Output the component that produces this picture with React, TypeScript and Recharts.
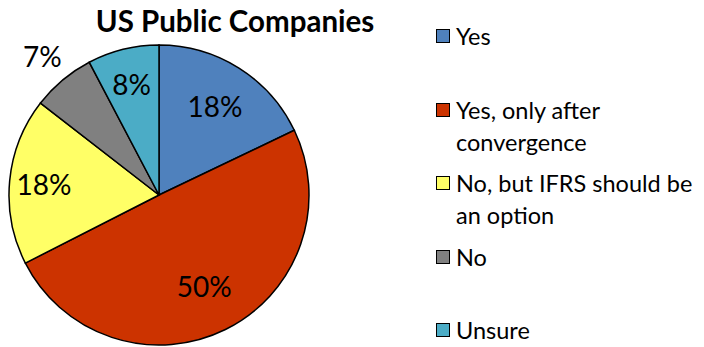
import React from "react";
import { PieChart, Pie, Cell, Legend } from "recharts";

const categories = ["Yes", "Yes, only after convergence", "No, but IFRS should be an option", "No", "Unsure"];
const values = [17.9, 49.6, 18.0, 6.8, 7.7];
const legendLines = [["Yes"], ["Yes, only after", "convergence"], ["No, but IFRS should be", "an option"], ["No"], ["Unsure"]];
const colors = ["#4F81BD", "#CC3300", "#FFFF66", "#808080", "#4BACC6"];
const labelFactors = [0.7, 0.68, 0.77, 1.21, 0.76];
const title = "US Public Companies";

const data = categories.map((name, i) => ({ name, value: values[i] }));
const FONT = "Lato, 'Open Sans', sans-serif";
const RADIAN = Math.PI / 180;

const renderLabel = (props: any) => {
  const { cx, cy, midAngle, outerRadius, index, value } = props;
  const r = outerRadius * labelFactors[index];
  const x = cx + r * Math.cos(-midAngle * RADIAN);
  const y = cy + r * Math.sin(-midAngle * RADIAN);
  return (
    <text x={x} y={y} textAnchor="middle" dominantBaseline="central" fontFamily={FONT} fontSize={28} fill="#000">
      {Math.round(value)}%
    </text>
  );
};

const renderLegend = () => (
  <div style={{ fontFamily: FONT, fontSize: 23.5, color: "#000" }}>
    {legendLines.map((lines, i) => (
      <div key={i} style={{ height: 73.5, display: "flex", alignItems: "flex-start" }}>
        <div style={{ width: 14, height: 14, marginTop: 9, background: colors[i], border: "1.5px solid #000", boxSizing: "border-box", flexShrink: 0 }} />
        <div style={{ marginLeft: 6, lineHeight: "32px" }}>
          {lines.map((l, j) => (
            <div key={j} style={{ whiteSpace: "nowrap" }}>{l}</div>
          ))}
        </div>
      </div>
    ))}
  </div>
);

export default function App() {
  return (
    <div style={{ position: "absolute", left: 0, top: 0, width: 704, height: 347, background: "#fff" }}>
      <div style={{ position: "absolute", left: 0, top: 3, width: 470, textAlign: "center", fontFamily: FONT, fontWeight: 700, fontSize: 29.5, color: "#000" }}>
        {title}
      </div>
      <PieChart width={704} height={347} margin={{ top: 0, right: 0, bottom: 0, left: 0 }}>
        <Pie
          data={data}
          dataKey="value"
          nameKey="name"
          cx={159}
          cy={195}
          outerRadius={150}
          startAngle={90}
          endAngle={-270}
          stroke="#000"
          strokeWidth={1.5}
          label={renderLabel}
          labelLine={false}
          isAnimationActive={false}
        >
          {data.map((d, i) => (
            <Cell key={d.name} fill={colors[i]} />
          ))}
        </Pie>
        <Legend
          layout="vertical"
          verticalAlign="top"
          align="right"
          content={renderLegend}
          wrapperStyle={{ position: "absolute", left: 436, top: 20, width: 268 }}
        />
      </PieChart>
    </div>
  );
}
